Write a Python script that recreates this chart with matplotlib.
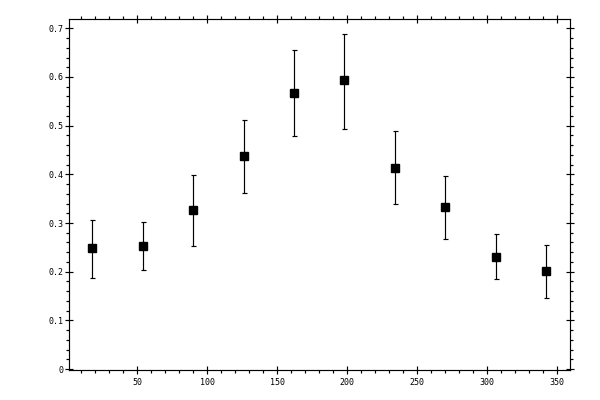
import matplotlib
matplotlib.use("Agg")
import matplotlib.pyplot as plt
from matplotlib.ticker import MultipleLocator, FixedLocator

x_vals = [18, 54, 90, 126, 162, 198, 234, 270, 306, 342]
y_vals = [0.248, 0.252, 0.326, 0.437, 0.568, 0.593, 0.414, 0.332, 0.231, 0.201]
y_upper = [0.307, 0.303, 0.398, 0.512, 0.656, 0.689, 0.490, 0.396, 0.277, 0.254]
y_lower = [0.186, 0.203, 0.252, 0.361, 0.478, 0.494, 0.340, 0.268, 0.184, 0.145]

x_ticks = [50, 100, 150, 200, 250, 300, 350]
y_ticks = [0, 0.1, 0.2, 0.3, 0.4, 0.5, 0.6, 0.7]
y_tick_labels = ["0", "0.1", "0.2", "0.3", "0.4", "0.5", "0.6", "0.7"]

err_lo = [v - lo for v, lo in zip(y_vals, y_lower)]
err_hi = [hi - v for v, hi in zip(y_vals, y_upper)]

fig = plt.figure(figsize=(6, 4), dpi=100)
ax = fig.add_axes([69.2 / 600, 30 / 400, (570.3 - 69.2) / 600, (370 - 19.3) / 400])

ax.errorbar(x_vals, y_vals, yerr=[err_lo, err_hi], fmt="s", color="black",
            markersize=5.2, capsize=1.8, elinewidth=0.85, capthick=0.85)

ax.set_xlim(1.4, 359.3)
ax.set_ylim(-0.002, 0.7185)

ax.xaxis.set_major_locator(FixedLocator(x_ticks))
ax.xaxis.set_minor_locator(MultipleLocator(10))
ax.set_yticks(y_ticks)
ax.set_yticklabels(y_tick_labels)
ax.yaxis.set_minor_locator(MultipleLocator(0.02))

for s in ax.spines.values():
    s.set_linewidth(0.85)

ax.tick_params(which="major", direction="inout", length=5.8, width=0.85,
               top=True, right=True, labelsize=6, colors="black")
ax.tick_params(which="minor", direction="out", length=2.5, width=0.85,
               top=True, right=True)
ax.tick_params(axis="x", which="major", pad=2.8)
ax.tick_params(axis="y", which="major", pad=1.0)

for lab in ax.get_xticklabels() + ax.get_yticklabels():
    lab.set_family("DejaVu Sans Mono")

fig.savefig("out.png", dpi=100)
